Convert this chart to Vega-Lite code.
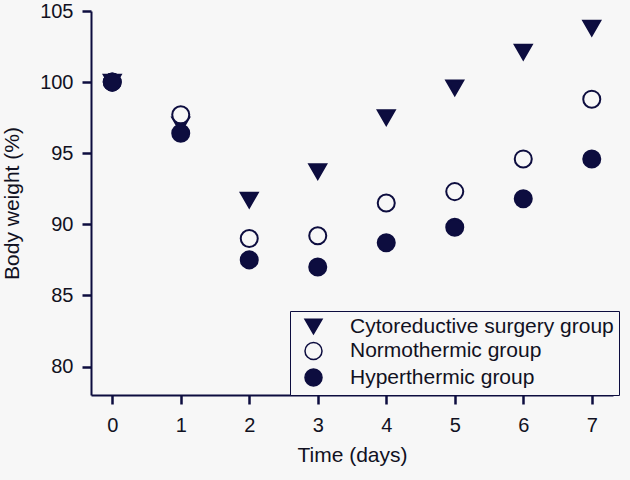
{
  "$schema": "https://vega.github.io/schema/vega-lite/v6.json",
  "autosize": "none",
  "width": 522,
  "height": 384,
  "padding": {"left": 91, "top": 11, "right": 17, "bottom": 85},
  "background": "#f7f7f7",
  "config": {
    "view": {"stroke": null},
    "font": "Liberation Sans"
  },
  "data": {
    "values": [
      {"day": 0, "group": "Cytoreductive surgery group", "weight": 100.0},
      {"day": 1, "group": "Cytoreductive surgery group", "weight": 97.0},
      {"day": 2, "group": "Cytoreductive surgery group", "weight": 91.7},
      {"day": 3, "group": "Cytoreductive surgery group", "weight": 93.7},
      {"day": 4, "group": "Cytoreductive surgery group", "weight": 97.5},
      {"day": 5, "group": "Cytoreductive surgery group", "weight": 99.6},
      {"day": 6, "group": "Cytoreductive surgery group", "weight": 102.1},
      {"day": 7, "group": "Cytoreductive surgery group", "weight": 103.8},
      {"day": 0, "group": "Normothermic group", "weight": 100.0},
      {"day": 1, "group": "Normothermic group", "weight": 97.7},
      {"day": 2, "group": "Normothermic group", "weight": 89.0},
      {"day": 3, "group": "Normothermic group", "weight": 89.2},
      {"day": 4, "group": "Normothermic group", "weight": 91.5},
      {"day": 5, "group": "Normothermic group", "weight": 92.3},
      {"day": 6, "group": "Normothermic group", "weight": 94.6},
      {"day": 7, "group": "Normothermic group", "weight": 98.8},
      {"day": 0, "group": "Hyperthermic group", "weight": 100.0},
      {"day": 1, "group": "Hyperthermic group", "weight": 96.4},
      {"day": 2, "group": "Hyperthermic group", "weight": 87.5},
      {"day": 3, "group": "Hyperthermic group", "weight": 87.0},
      {"day": 4, "group": "Hyperthermic group", "weight": 88.7},
      {"day": 5, "group": "Hyperthermic group", "weight": 89.8},
      {"day": 6, "group": "Hyperthermic group", "weight": 91.8},
      {"day": 7, "group": "Hyperthermic group", "weight": 94.6}
    ]
  },
  "mark": {"type": "point", "filled": true, "stroke": "#0d0d3f", "strokeWidth": 2, "size": 290, "opacity": 1},
  "encoding": {
    "x": {
      "field": "day", "type": "quantitative",
      "scale": {"domain": [-0.31, 7.31], "nice": false, "zero": false},
      "axis": {
        "title": "Time (days)", "values": [0,1,2,3,4,5,6,7], "grid": false,
        "domainColor": "#0d0d3f", "domainWidth": 2, "tickColor": "#0d0d3f", "tickWidth": 2.5, "tickSize": 9,
        "labelFontSize": 20, "labelColor": "#111122", "labelPadding": 11,
        "titleFontSize": 21, "titleFontWeight": "normal", "titleColor": "#111122", "titlePadding": 9
      }
    },
    "y": {
      "field": "weight", "type": "quantitative",
      "scale": {"domain": [78, 105], "nice": false, "zero": false},
      "axis": {
        "title": "Body weight (%)", "values": [80,85,90,95,100,105], "grid": false,
        "domainColor": "#0d0d3f", "domainWidth": 2, "tickColor": "#0d0d3f", "tickWidth": 2.5, "tickSize": 9,
        "labelFontSize": 20, "labelColor": "#111122", "labelPadding": 9,
        "titleFontSize": 21, "titleFontWeight": "normal", "titleColor": "#111122", "titlePadding": 17
      }
    },
    "shape": {
      "field": "group", "type": "nominal", "title": null,
      "scale": {"domain": ["Cytoreductive surgery group", "Normothermic group", "Hyperthermic group"], "range": ["triangle-down", "circle", "circle"]},
      "legend": {
        "orient": "none", "legendX": 199, "legendY": 300,
        "padding": 5, "strokeColor": "#0d0d3f", "fillColor": "#f7f7f7",
        "labelFontSize": 21, "labelColor": "#111122", "labelOffset": 26, "labelLimit": 500,
        "symbolOffset": 8, "rowPadding": 1.5, "symbolSize": 290,
        "encode": {"symbols": {"update": {"stroke": {"value": "#0d0d3f"}, "strokeWidth": {"value": 2}}}}
      }
    },
    "fill": {
      "field": "group", "type": "nominal", "title": null,
      "scale": {"domain": ["Cytoreductive surgery group", "Normothermic group", "Hyperthermic group"], "range": ["#0d0d3f", "#f7f7f7", "#0d0d3f"]}
    }
  }
}
